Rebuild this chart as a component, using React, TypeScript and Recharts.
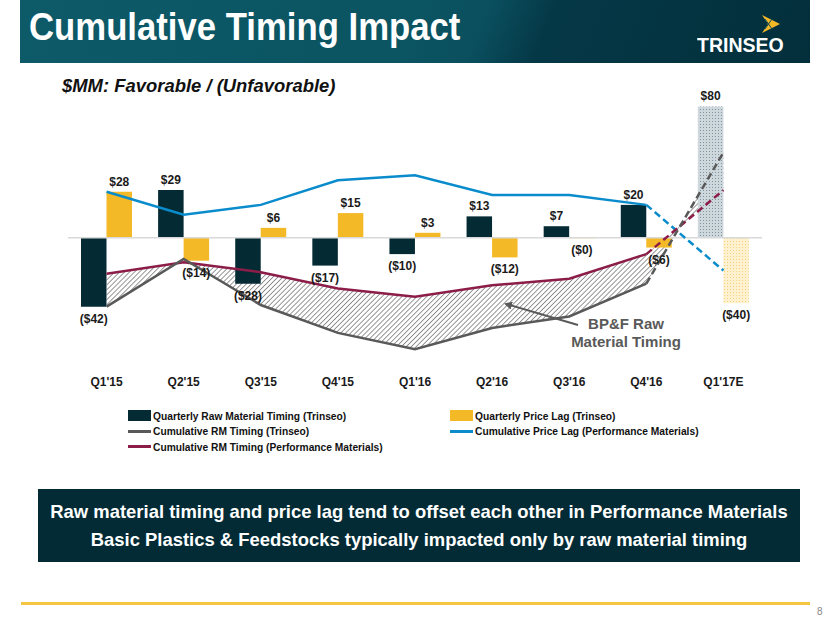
import { ComposedChart, Bar, Line, Area, XAxis, YAxis, ReferenceLine, LabelList, Cell } from 'recharts';

const quarters = ["Q1'15", "Q2'15", "Q3'15", "Q4'15", "Q1'16", "Q2'16", "Q3'16", "Q4'16", "Q1'17E"];
const rmQuarterly = [-42, 29, -28, -17, -10, 13, 7, 20, 80];
const priceLagQuarterly = [28, -14, 6, 15, 3, -12, -0.3, -6, -40];
const cumRmTrinseo = [-42, -13, -41, -58, -68, -55, -48, -28, 52];
const cumPriceLagPM = [28, 14, 20, 35, 38, 26, 26, 20, -20];
const cumRmPM = [-22, -15, -21, -31, -36, -29, -25, -10, 29];
const lastActual = 7; // Q4'16, after that it's an estimate

const font = "'Liberation Sans Narrow', 'Arial Narrow', 'Liberation Sans', Arial, sans-serif";
const c = { dark: '#042b34', yellow: '#f4b927', gray: '#595959', maroon: '#8c1d48', blue: '#0a8ccc' };

const data = quarters.map((q, i) => ({
  q,
  rm: rmQuarterly[i],
  pl: priceLagQuarterly[i],
  band: [cumRmTrinseo[i], cumRmPM[i]],
  gray: i <= lastActual ? cumRmTrinseo[i] : null,
  grayEst: i >= lastActual ? cumRmTrinseo[i] : null,
  maroon: i <= lastActual ? cumRmPM[i] : null,
  maroonEst: i >= lastActual ? cumRmPM[i] : null,
  blue: i <= lastActual ? cumPriceLagPM[i] : null,
  blueEst: i >= lastActual ? cumPriceLagPM[i] : null,
}));

const fmt = (v: number) => (v < 0 ? `($${Math.round(-v)})` : `$${Math.round(v)}`);

function BarLabel(props: any) {
  const { x, y, width, height, value } = props;
  const top = Math.min(y, y + height);
  const bottom = Math.max(y, y + height);
  const cx = x + width / 2;
  const ty = value < 0 ? bottom + 16 : top - 6;
  return (
    <text x={cx} y={ty} textAnchor="middle" fontFamily={font} fontWeight="bold" fontSize={12} fill="#1a1a1a">
      {fmt(value)}
    </text>
  );
}

// narrow-ish text (no Arial Narrow installed, so squeeze horizontally)
const squeeze = (s: number): any => ({ display: 'inline-block', transform: `scaleX(${s})`, transformOrigin: 'left center', whiteSpace: 'nowrap' });

function LegendItem({ kind, color, label }: { kind: 'box' | 'line'; color: string; label: string }) {
  return (
    <div style={{ display: 'flex', alignItems: 'center', height: 15.5 }}>
      {kind === 'box' ? (
        <div style={{ width: 23, height: 11, background: color }} />
      ) : (
        <div style={{ width: 23, height: 3, background: color }} />
      )}
      <span style={{ marginLeft: 2, fontSize: 11.5, ...squeeze(0.89) }}>{label}</span>
    </div>
  );
}

export default function App() {
  return (
    <div style={{ position: 'absolute', left: 0, top: 0, width: 830, height: 623, background: '#fff', fontFamily: font, overflow: 'hidden' }}>
      {/* header */}
      <div
        style={{
          position: 'absolute', left: 20, top: 0, width: 790, height: 63,
          background: 'linear-gradient(112deg, #0d5a68 0%, #0b5462 50%, #0a4f5e 58%, #053847 66%, #032f3b 100%)',
        }}
      />
      <div style={{ position: 'absolute', left: 29, top: 5, color: '#fff', fontSize: 39, fontWeight: 'bold', ...squeeze(0.89) }}>
        Cumulative Timing Impact
      </div>
      <svg style={{ position: 'absolute', left: 760, top: 14 }} width={22} height={20}>
        <polygon points="2,1 20,10 2,19 8,10" fill="#f4b927" />
        <line x1={5} y1={5} x2={12} y2={15} stroke="#0a4a57" strokeWidth={1} />
        <line x1={5} y1={15} x2={12} y2={5} stroke="#0a4a57" strokeWidth={1} />
      </svg>
      <div style={{ position: 'absolute', left: 697, top: 33, color: '#fff', fontSize: 21, fontWeight: 'bold', ...squeeze(0.93) }}>TRINSEO</div>

      <div style={{ position: 'absolute', left: 62, top: 75, fontSize: 19, fontWeight: 'bold', fontStyle: 'italic', color: '#111', ...squeeze(0.97) }}>
        $MM: Favorable / (Unfavorable)
      </div>

      <div style={{ position: 'absolute', left: 0, top: 0 }}>
        <ComposedChart width={830} height={410} data={data} margin={{ top: 90, right: 68, bottom: 11, left: 68 }} barGap={0}>
          <defs>
            <pattern id="hatch" patternUnits="userSpaceOnUse" width={3.5} height={3.5} patternTransform="rotate(45)">
              <rect width={3.5} height={3.5} fill="#fff" />
              <line x1={0} y1={0} x2={0} y2={3.5} stroke="#5f5f5f" strokeWidth={1.3} />
            </pattern>
            <pattern id="dotsGray" patternUnits="userSpaceOnUse" width={3} height={3}>
              <rect width={3} height={3} fill="#cdd7dc" />
              <rect x={1} y={1} width={1} height={1} fill="#7f949e" />
            </pattern>
            <pattern id="dotsYellow" patternUnits="userSpaceOnUse" width={3} height={3}>
              <rect width={3} height={3} fill="#fdf1cf" />
              <rect x={1} y={1} width={1} height={1} fill="#f6d47f" />
            </pattern>
          </defs>
          <XAxis
            dataKey="q"
            axisLine={false}
            tickLine={false}
            height={30}
            tick={{ fontFamily: font, fontWeight: 'bold', fontSize: 12, fill: '#1a1a1a' }}
            interval={0}
          />
          <YAxis hide domain={[-80, 90]} />
          <ReferenceLine y={0} stroke="#d9d9d9" strokeWidth={1.5} />
          <Area dataKey="band" fill="url(#hatch)" stroke="none" fillOpacity={1} isAnimationActive={false} />
          <Bar dataKey="rm" fill={c.dark} barSize={25.5} isAnimationActive={false}>
            {data.map((d, i) => (
              <Cell key={d.q} fill={i > lastActual ? 'url(#dotsGray)' : c.dark} />
            ))}
            <LabelList dataKey="rm" content={BarLabel} />
          </Bar>
          <Bar dataKey="pl" fill={c.yellow} barSize={25.5} isAnimationActive={false}>
            {data.map((d, i) => (
              <Cell key={d.q} fill={i > lastActual ? 'url(#dotsYellow)' : c.yellow} />
            ))}
            <LabelList dataKey="pl" content={BarLabel} />
          </Bar>
          <Line dataKey="blue" stroke={c.blue} strokeWidth={2.5} dot={false} isAnimationActive={false} />
          <Line dataKey="blueEst" stroke={c.blue} strokeWidth={2.5} strokeDasharray="7 4" dot={false} isAnimationActive={false} />
          <Line dataKey="maroon" stroke={c.maroon} strokeWidth={2.5} dot={false} isAnimationActive={false} />
          <Line dataKey="maroonEst" stroke={c.maroon} strokeWidth={2.5} strokeDasharray="7 4" dot={false} isAnimationActive={false} />
          <Line dataKey="gray" stroke={c.gray} strokeWidth={2.5} dot={false} isAnimationActive={false} />
          <Line dataKey="grayEst" stroke={c.gray} strokeWidth={2.5} strokeDasharray="7 4" dot={false} isAnimationActive={false} />
        </ComposedChart>
      </div>

      {/* BP&F annotation */}
      <svg style={{ position: 'absolute', left: 0, top: 0 }} width={830} height={623} pointerEvents="none">
        <defs>
          <marker id="arrow" markerWidth={8} markerHeight={8} refX={6} refY={4} orient="auto" markerUnits="userSpaceOnUse">
            <path d="M0,0 L8,4 L0,8 z" fill={c.gray} />
          </marker>
        </defs>
        <line x1={578} y1={325} x2={506} y2={304} stroke={c.gray} strokeWidth={2} markerEnd="url(#arrow)" />
        <text x={626} y={329} textAnchor="middle" fontFamily={font} fontWeight="bold" fontSize={15} fill={c.gray}>BP&amp;F Raw</text>
        <text x={626} y={347} textAnchor="middle" fontFamily={font} fontWeight="bold" fontSize={15} fill={c.gray}>Material Timing</text>
      </svg>

      {/* legend */}
      <div style={{ position: 'absolute', left: 128, top: 408, fontWeight: 'bold', color: '#111' }}>
        <LegendItem kind="box" color={c.dark} label="Quarterly Raw Material Timing (Trinseo)" />
        <LegendItem kind="line" color={c.gray} label="Cumulative RM Timing (Trinseo)" />
        <LegendItem kind="line" color={c.maroon} label="Cumulative RM Timing (Performance Materials)" />
      </div>
      <div style={{ position: 'absolute', left: 450, top: 408, fontWeight: 'bold', color: '#111' }}>
        <LegendItem kind="box" color={c.yellow} label="Quarterly Price Lag (Trinseo)" />
        <LegendItem kind="line" color={c.blue} label="Cumulative Price Lag (Performance Materials)" />
      </div>

      {/* takeaway box */}
      <div
        style={{
          position: 'absolute', left: 38, top: 489, width: 762, height: 73, background: '#032b35',
          color: '#fff', fontWeight: 'bold', fontSize: 19, textAlign: 'center', lineHeight: '28px',
          paddingTop: 9, boxSizing: 'border-box',
        }}
      >
        <div style={{ transform: 'scaleX(0.97)' }}>Raw material timing and price lag tend to offset each other in Performance Materials</div>
        <div style={{ transform: 'scaleX(0.97)' }}>Basic Plastics &amp; Feedstocks typically impacted only by raw material timing</div>
      </div>

      <div style={{ position: 'absolute', left: 21, top: 602, width: 789, height: 3, background: '#f6c543' }} />
      <div style={{ position: 'absolute', left: 817, top: 606, fontSize: 10, color: '#888' }}>8</div>
    </div>
  );
}
